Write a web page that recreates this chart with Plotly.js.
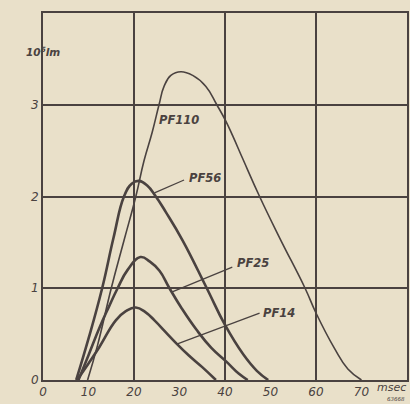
<!DOCTYPE html>
<html>
<head>
<meta charset="utf-8">
<script src="https://cdn.plot.ly/plotly-3.0.1.min.js"></script>
<style>html,body{margin:0;padding:0;background:#e9e0c9;}#chart{width:410px;height:404px;}</style>
</head>
<body>
<div id="chart"></div>
<script>
// Luminous flux (10^5 lm) vs time (msec) for flash bulbs
const pf110_t = [9.8, 12, 15, 17.8, 20.4, 22.2, 24.0, 25.5, 26.6, 28.1, 30.3, 32.9, 35.8, 38.2, 40.1, 41.7, 44, 47.6, 52, 57.6, 60, 64, 67, 70];
const pf110_v = [0, 0.38, 1.0, 1.52, 2.0, 2.39, 2.70, 3.0, 3.2, 3.32, 3.36, 3.32, 3.2, 3.0, 2.83, 2.66, 2.4, 2.0, 1.55, 1.0, 0.73, 0.35, 0.12, 0];

const pf56_t = [7.3, 10, 13, 15.5, 17.8, 19.5, 21.1, 22.9, 24.8, 27, 30.7, 36, 40, 44, 47, 49.5];
const pf56_v = [0, 0.45, 1.0, 1.55, 2.0, 2.14, 2.17, 2.12, 2.0, 1.83, 1.52, 1.0, 0.6, 0.28, 0.1, 0];

const pf25_t = [7.8, 10, 12.5, 14.5, 16.4, 18.6, 21.4, 23.5, 25.6, 27.8, 30.5, 33.7, 37, 40.3, 43, 45];
const pf25_v = [0, 0.27, 0.58, 0.8, 1.0, 1.2, 1.34, 1.29, 1.19, 1.0, 0.78, 0.55, 0.35, 0.2, 0.07, 0];

const pf14_t = [7.5, 10, 12.4, 16, 18.2, 20.4, 22.5, 24.5, 27, 29.3, 32, 35, 38];
const pf14_v = [0, 0.18, 0.36, 0.65, 0.75, 0.79, 0.74, 0.65, 0.52, 0.4, 0.27, 0.14, 0];

const series_names = ["PF110", "PF56", "PF25", "PF14"];

const x_tick_vals = [0, 10, 20, 30, 40, 50, 60, 70];
const x_tick_text = ["0", "10", "20", "30", "40", "50", "60", "70"];
const x_grid_vals = [20, 40, 60];
const y_tick_vals = [0, 1, 2, 3];
const y_tick_text = ["0", "1", "2", "3"];
const x_unit = "msec";
const y_unit = "10<sup>5</sup>lm";
const plate_no = "63668";

// label positions: [text x, text y, leader start x, start y, leader end x, end y]
const label_pos = {
  PF110: [29.8, 2.83, null, null, null, null],
  PF56:  [35.6, 2.2, 31.0, 2.18, 24.5, 2.04],
  PF25:  [46.2, 1.27, 41.6, 1.23, 28.4, 0.96],
  PF14:  [51.9, 0.73, 47.6, 0.73, 29.4, 0.39]
};

const ink = '#4a4240';
const paper = '#e9e0c9';
const fnt = {family: 'DejaVu Sans', size: 12, color: ink, style: 'italic'};

const traces = [
  {x: pf110_t, y: pf110_v, name: series_names[0], mode: 'lines', line: {shape: 'spline', smoothing: 1.3, color: ink, width: 1.6}},
  {x: pf56_t, y: pf56_v, name: series_names[1], mode: 'lines', line: {shape: 'spline', smoothing: 1.3, color: ink, width: 2.6}},
  {x: pf25_t, y: pf25_v, name: series_names[2], mode: 'lines', line: {shape: 'spline', smoothing: 1.3, color: ink, width: 2.6}},
  {x: pf14_t, y: pf14_v, name: series_names[3], mode: 'lines', line: {shape: 'spline', smoothing: 1.3, color: ink, width: 2.6}, xaxis: 'x2'}
];

const annotations = [];
const shapes = [];
series_names.forEach(n => {
  const p = label_pos[n];
  annotations.push({x: p[0], y: p[1], xref: 'x', yref: 'y', text: n, showarrow: false,
    font: {family: 'DejaVu Sans', size: 11.5, color: ink, style: 'italic', weight: 'bold'}});
  if (p[2] !== null) {
    shapes.push({type: 'line', xref: 'x', yref: 'y', x0: p[2], y0: p[3], x1: p[4], y1: p[5],
      line: {color: ink, width: 1.3}});
  }
});
annotations.push({x: 73.0, y: 0, xref: 'x', yref: 'y', yshift: -7, xanchor: 'left', text: x_unit, showarrow: false,
  font: {family: 'DejaVu Sans', size: 11, color: ink, style: 'italic'}});
annotations.push({x: -0.052, y: 0.918, xref: 'paper', yref: 'paper', text: y_unit, showarrow: false,
  font: {family: 'DejaVu Sans', size: 10.5, color: ink, style: 'italic', weight: 'bold'}});
annotations.push({x: 1.0, y: 0, xref: 'paper', yref: 'paper', yshift: -24, xanchor: 'right', text: plate_no, showarrow: false,
  font: {family: 'DejaVu Sans', size: 5.5, color: ink}});

const layout = {
  width: 410, height: 404,
  margin: {l: 43, r: 3, t: 13, b: 24},
  paper_bgcolor: paper, plot_bgcolor: paper,
  showlegend: false,
  font: fnt,
  xaxis: {range: [0, 80], tickvals: x_tick_vals, ticktext: x_tick_text, showgrid: false,
    zeroline: false, showline: true, mirror: true, linecolor: ink, linewidth: 2,
    ticks: '', tickfont: fnt, fixedrange: true},
  xaxis2: {range: [0, 80], overlaying: 'x', anchor: 'y', tickvals: x_grid_vals, showticklabels: false,
    showgrid: true, gridcolor: ink, gridwidth: 2, zeroline: false, showline: false, ticks: ''},
  yaxis: {range: [0, 4], tickvals: y_tick_vals, ticktext: y_tick_text, showgrid: true,
    gridcolor: ink, gridwidth: 2, zeroline: false, showline: true, mirror: true,
    linecolor: ink, linewidth: 2, ticks: '', tickfont: fnt, fixedrange: true},
  annotations: annotations,
  shapes: shapes
};

Plotly.newPlot('chart', traces, layout, {staticPlot: true, displayModeBar: false});
</script>
</body>
</html>
